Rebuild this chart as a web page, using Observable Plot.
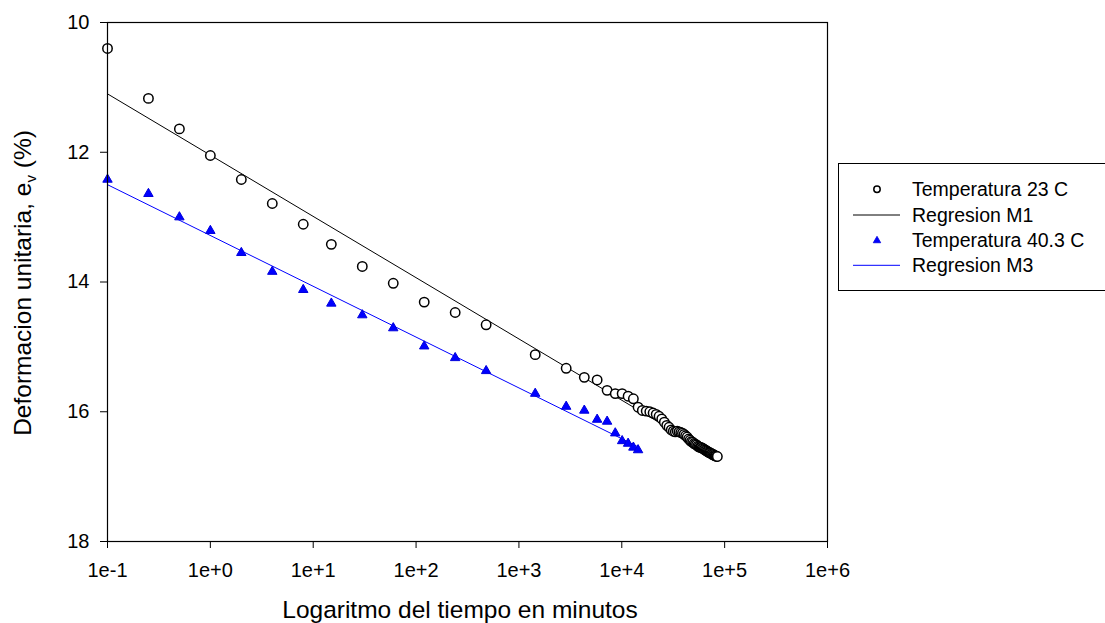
<!DOCTYPE html>
<html>
<head>
<meta charset="utf-8">
<script src="https://cdn.jsdelivr.net/npm/d3@7"></script>
<script src="https://cdn.jsdelivr.net/npm/@observablehq/plot@0.6"></script>
<style>
  html, body { margin: 0; padding: 0; background: #fff; }
  #chart { position: relative; width: 1105px; height: 623px; }
</style>
</head>
<body>
<div id="chart"></div>
<script>
// ---- Data ----
const xTickValues = [0.1, 1, 10, 100, 1000, 10000, 100000, 1000000];
const xTickLabels = ["1e-1", "1e+0", "1e+1", "1e+2", "1e+3", "1e+4", "1e+5", "1e+6"];
const yTickValues = [10, 12, 14, 16, 18];

// Temperatura 23 C (time in minutes, strain %)
const time23 = [0.1, 0.25, 0.5, 1, 2, 4, 8, 15, 30, 60, 120, 240, 480,
  1440, 2880, 4320, 5760, 7200, 8640, 10080, 11520, 12960, 14400,
  15840, 17280, 18720, 20160, 21600, 23040, 24480, 25920, 27360, 28800,
  30240, 31680, 33120, 34560, 36000, 37440, 38880, 40320, 41760, 43200,
  44640, 46080, 47520, 48960, 50400, 51840, 53280, 54720, 56160, 57600,
  59040, 60480, 61920, 63360, 64800, 66240, 67680, 69120, 70560, 72000,
  73440, 74880, 76320, 77760, 79200, 80640, 82080, 83520, 84960];
const strain23 = [10.40, 11.17, 11.64, 12.05, 12.42, 12.79, 13.11, 13.42, 13.76, 14.02, 14.31, 14.47, 14.66,
  15.12, 15.33, 15.47, 15.51, 15.67, 15.72, 15.72, 15.76, 15.80, 15.93,
  15.98, 15.99, 16.00, 16.02, 16.04, 16.07, 16.11, 16.16, 16.21, 16.24,
  16.28, 16.30, 16.31, 16.30, 16.31, 16.32, 16.33, 16.35, 16.37, 16.39,
  16.42, 16.44, 16.46, 16.47, 16.49, 16.50, 16.51, 16.53, 16.54, 16.55,
  16.55, 16.56, 16.57, 16.58, 16.59, 16.60, 16.61, 16.62, 16.63, 16.63,
  16.64, 16.65, 16.66, 16.66, 16.67, 16.68, 16.68, 16.69, 16.69];

// Temperatura 40.3 C
const time40 = [0.1, 0.25, 0.5, 1, 2, 4, 8, 15, 30, 60, 120, 240, 480,
  1440, 2880, 4320, 5760, 7200, 8640, 10080, 11520, 12960, 14400];
const strain40 = [12.42, 12.64, 13.00, 13.21, 13.55, 13.84, 14.12, 14.33, 14.51, 14.71, 14.99, 15.17, 15.37,
  15.72, 15.92, 15.98, 16.12, 16.15, 16.33, 16.45, 16.49, 16.55, 16.59];

// Regression lines (end points)
const regM1Time = [0.1, 84960];
const regM1Strain = [11.10, 16.70];
const regM3Time = [0.1, 14400];
const regM3Strain = [12.50, 16.54];

const seriesNames = ["Temperatura 23 C", "Regresion M1", "Temperatura 40.3 C", "Regresion M3"];

// ---- Tables ----
const pts23 = time23.map((t, i) => ({t, e: strain23[i]}));
const pts40 = time40.map((t, i) => ({t, e: strain40[i]}));
const m1 = regM1Time.map((t, i) => ({t, e: regM1Strain[i]}));
const m3 = regM3Time.map((t, i) => ({t, e: regM3Strain[i]}));

const FONT = "'Liberation Sans', Arial, Helvetica, sans-serif";

const plot = Plot.plot({
  width: 1105,
  height: 623,
  marginLeft: 107,
  marginRight: 278,
  marginTop: 22,
  marginBottom: 82,
  style: {fontFamily: FONT, fontSize: "20px", color: "black", background: "white"},
  x: {type: "log", domain: [0.1, 1e6]},
  y: {domain: [10, 18], reverse: true},
  marks: [
    Plot.axisX({ticks: xTickValues, tickFormat: d => xTickLabels[xTickValues.indexOf(d)],
      tickSize: 7, tickPadding: 14, label: null, fontSize: 20}),
    Plot.axisY({ticks: yTickValues, tickFormat: d => String(d),
      tickSize: 7, tickPadding: 11, label: null, fontSize: 20}),
    Plot.line(m1, {x: "t", y: "e", stroke: "black", strokeWidth: 1}),
    Plot.line(m3, {x: "t", y: "e", stroke: "#0000ff", strokeWidth: 1}),
    Plot.dot(pts23, {x: "t", y: "e", r: 4.7, fill: "white", stroke: "black", strokeWidth: 1.5}),
    Plot.dot(pts40, {x: "t", y: "e", symbol: "triangle", r: 3.5, fill: "#0000ff", stroke: "#0000dd", strokeWidth: 1}),
    Plot.frame({stroke: "black", strokeWidth: 1.2})
  ]
});

document.getElementById("chart").appendChild(plot);

// ---- Titles and legend (layout only) ----
const svg = d3.select(plot);

svg.append("text")
  .attr("x", 460).attr("y", 618)
  .attr("text-anchor", "middle")
  .style("font-family", FONT).style("font-size", "24.5px").attr("fill", "black")
  .text("Logaritmo del tiempo en minutos");

const yt = svg.append("text")
  .attr("transform", "translate(31,283) rotate(-90)")
  .attr("text-anchor", "middle")
  .style("font-family", FONT).style("font-size", "24.5px").attr("fill", "black");
yt.append("tspan").text("Deformacion unitaria, e");
yt.append("tspan").attr("dy", "0.35em").style("font-size", "15px").text("v");
yt.append("tspan").attr("dy", "-0.22em").text(" (%)");

const lg = svg.append("g").attr("text-anchor", "start");
lg.append("rect").attr("x", 838.5).attr("y", 163.5).attr("width", 300).attr("height", 127)
  .attr("fill", "white").attr("stroke", "black").attr("stroke-width", 1);
const rowY = [189.3, 215, 240.6, 265.3];
// symbols
lg.append("circle").attr("cx", 877).attr("cy", rowY[0]).attr("r", 3.2)
  .attr("fill", "white").attr("stroke", "black").attr("stroke-width", 1.5);
lg.append("line").attr("x1", 853).attr("x2", 900).attr("y1", rowY[1]).attr("y2", rowY[1])
  .attr("stroke", "black").attr("stroke-width", 1);
lg.append("path").attr("transform", `translate(877,${rowY[2]})`)
  .attr("d", d3.symbol(d3.symbolTriangle, 24)())
  .attr("fill", "#0000ff").attr("stroke", "#0000dd").attr("stroke-width", 0.8);
lg.append("line").attr("x1", 853).attr("x2", 900).attr("y1", rowY[3]).attr("y2", rowY[3])
  .attr("stroke", "#0000ff").attr("stroke-width", 1);
seriesNames.forEach((name, i) => {
  lg.append("text").attr("x", 912).attr("y", rowY[i] + 6.8)
    .attr("text-anchor", "start")
    .style("font-family", FONT).style("font-size", "19.5px").attr("fill", "black")
    .text(name);
});
</script>
</body>
</html>
